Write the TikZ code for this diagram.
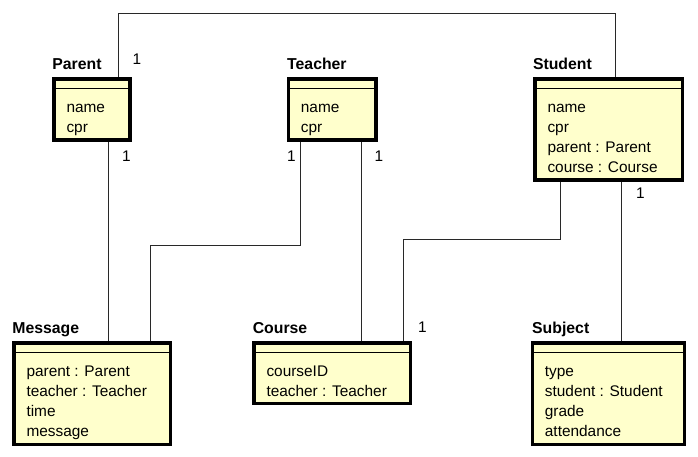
\documentclass[tikz,border=0pt]{standalone}
\usepackage{fontspec}
\setmainfont{Liberation Sans}
\pgfdeclarelayer{bg}
\pgfsetlayers{bg,main}
\definecolor{umlfill}{RGB}{255,255,204}
\definecolor{conncol}{RGB}{40,40,40}
\tikzset{
  cls/.style={draw=black, line width=3.5pt, fill=umlfill, inner sep=0pt, outer sep=0pt},
  hdr/.style={line width=1.2pt, draw=black},
  ttl/.style={font=\bfseries\fontsize{15.8}{18}\selectfont, anchor=base west, inner sep=0pt},
  attr/.style={font=\fontsize{15.4}{18}\selectfont, anchor=base west, inner sep=0pt},
  mult/.style={font=\fontsize{15.4}{18}\selectfont, anchor=base, inner sep=0pt},
  conn/.style={line width=1pt, draw=conncol}
}
\begin{document}
\begin{tikzpicture}[x=1pt,y=-1pt]
\useasboundingbox (0,0) rectangle (698,457);

% classes
\node[cls, minimum width=75.9pt, minimum height=60.9pt] (parent) at (92,109.5) {};
\node[cls, minimum width=87.5pt, minimum height=60.9pt] (teacher) at (332.2,109.5) {};
\node[cls, minimum width=147.2pt, minimum height=101.2pt] (student) at (608.7,129.65) {};
\node[cls, minimum width=156.2pt, minimum height=101.5pt] (message) at (92.15,393.5) {};
\node[cls, minimum width=156.2pt, minimum height=60.5pt] (course) at (332.15,373) {};
\node[cls, minimum width=151.8pt, minimum height=101.5pt] (subject) at (608.35,393.5) {};

\foreach \c in {parent,teacher,student,message,course,subject}
  \draw[hdr] ([yshift=-9.5pt]\c.north west) -- ([yshift=-9.5pt]\c.north east);

% titles
\node[ttl] (parentT) at (52.2,70) {Parent};
\node[ttl] (teacherT) at (287,70) {Teacher};
\node[ttl] (studentT) at (532.8,70) {Student};
\node[ttl] (messageT) at (12.2,333) {Message};
\node[ttl] (courseT) at (252.6,333) {Course};
\node[ttl] (subjectT) at (532,333) {Subject};

% attributes
\node[attr] (parentA1) at (66.3,112.3) {name};
\node[attr] (parentA2) at (66.3,132.3) {cpr};
\node[attr] (teacherA1) at (300.7,112.3) {name};
\node[attr] (teacherA2) at (300.7,132.3) {cpr};
\node[attr] (studentA1) at (547.3,112.3) {name};
\node[attr] (studentA2) at (547.3,132.3) {cpr};
\node[attr] (studentA3) at (547.3,152.3) {parent : Parent};
\node[attr] (studentA4) at (547.3,172.3) {course : Course};
\node[attr] (messageA1) at (26.3,376) {parent : Parent};
\node[attr] (messageA2) at (26.3,396) {teacher : Teacher};
\node[attr] (messageA3) at (26.3,416) {time};
\node[attr] (messageA4) at (26.3,436) {message};
\node[attr] (courseA1) at (266.3,376) {courseID};
\node[attr] (courseA2) at (266.3,396) {teacher : Teacher};
\node[attr] (subjectA1) at (544.7,376) {type};
\node[attr] (subjectA2) at (544.7,396) {student : Student};
\node[attr] (subjectA3) at (544.7,416) {grade};
\node[attr] (subjectA4) at (544.7,436) {attendance};

% connectors
\coordinate (tm) at (150.7,245.7);
\coordinate (sc) at (403.3,239);
\begin{pgfonlayer}{bg}
\draw[conn] ([xshift=26.3pt]parent.north) |- ([xshift=6.3pt,yshift=65.7pt]student.north) -- ([xshift=6.3pt]student.north);
\draw[conn] ([xshift=16.3pt]parent.south) -- ([xshift=16.3pt]parent.south |- message.north);
\draw[conn] ([xshift=-31.9pt]teacher.south) |- (tm) -- (tm |- message.north);
\draw[conn] ([xshift=28.8pt]teacher.south) -- ([xshift=28.8pt]teacher.south |- course.north);
\draw[conn] ([xshift=-48pt]student.south) |- (sc) -- (sc |- course.north);
\draw[conn] ([xshift=12.3pt]student.south) -- ([xshift=12.3pt]student.south |- subject.north);
\end{pgfonlayer}

% multiplicities
\node[mult] (m1) at (137,65) {1};
\node[mult] (m2) at (126.5,162) {1};
\node[mult] (m3) at (291.5,162) {1};
\node[mult] (m4) at (379,162) {1};
\node[mult] (m5) at (640.5,198) {1};
\node[mult] (m6) at (422.5,332) {1};
\end{tikzpicture}
\end{document}
